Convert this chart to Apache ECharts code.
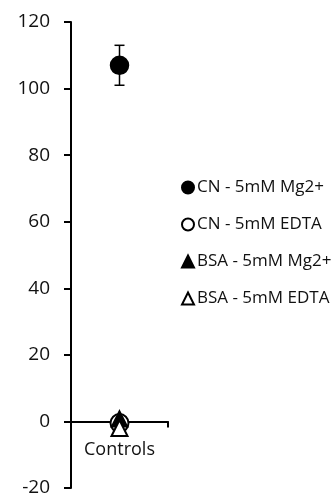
<!DOCTYPE html>
<html>
<head>
<meta charset="utf-8">
<script src="https://cdn.jsdelivr.net/npm/echarts@6/dist/echarts.min.js"></script>
<style>
  html, body { margin: 0; padding: 0; background: #fff; }
  #main { width: 334px; height: 497px; }
</style>
</head>
<body>
<div id="main"></div>
<script>
// 数据
var categories = ['Controls'];
var seriesNames = ['CN - 5mM Mg2+', 'CN - 5mM EDTA', 'BSA - 5mM Mg2+', 'BSA - 5mM EDTA'];
var seriesValues = [107, -0.5, 0.8, -2];
var seriesErrors = [6, 0, 0, 0];
var seriesSymbols = ['circle', 'emptyCircle', 'triangle', 'emptyTriangle'];
var yTicks = [-20, 0, 20, 40, 60, 80, 100, 120];

var myChart = echarts.init(document.getElementById('main'));

var font = 'Open Sans';
var series = [];

// 误差线
seriesNames.forEach(function (name, i) {
    if (!seriesErrors[i]) return;
    series.push({
        type: 'custom',
        silent: true,
        z: 1,
        data: [[categories[0], seriesValues[i] - seriesErrors[i], seriesValues[i] + seriesErrors[i]]],
        renderItem: function (params, api) {
            var lo = api.coord([api.value(0), api.value(1)]);
            var hi = api.coord([api.value(0), api.value(2)]);
            var w = 5;
            var style = { stroke: '#000', lineWidth: 1.5 };
            return {
                type: 'group',
                children: [
                    { type: 'line', shape: { x1: lo[0], y1: lo[1], x2: hi[0], y2: hi[1] }, style: style },
                    { type: 'line', shape: { x1: lo[0] - w, y1: lo[1], x2: lo[0] + w, y2: lo[1] }, style: style },
                    { type: 'line', shape: { x1: hi[0] - w, y1: hi[1], x2: hi[0] + w, y2: hi[1] }, style: style }
                ]
            };
        }
    });
});

// 数据点
seriesNames.forEach(function (name, i) {
    var isTri = seriesSymbols[i].indexOf('riangle') > -1;
    series.push({
        name: name,
        type: 'scatter',
        z: 3,
        symbol: seriesSymbols[i],
        symbolSize: isTri ? 16 : 18,
        itemStyle: { color: '#000', borderColor: '#000', borderWidth: 1.5, opacity: 1 },
        data: [[categories[0], seriesValues[i]]]
    });
});

var option = {
    animation: false,
    grid: { left: 71, right: 166, top: 22, bottom: 9, outerBoundsMode: 'none' },
    legend: {
        orient: 'vertical',
        left: 176,
        top: 174,
        itemGap: 20,
        itemWidth: 12,
        itemHeight: 12,
        data: seriesNames.map(function (n, i) { return { name: n, icon: seriesSymbols[i] }; }),
        textStyle: { fontFamily: font, fontSize: 17, color: '#111', padding: [0, 0, 0, -2] }
    },
    xAxis: {
        type: 'category',
        data: categories,
        boundaryGap: true,
        axisLine: { onZero: true, lineStyle: { color: '#000', width: 2 } },
        axisTick: { show: true, length: 6, lineStyle: { color: '#000', width: 2 } },
        // 标签放在 0 线下方
        axisLabel: { fontFamily: font, fontSize: 18, color: '#111', margin: -47 }
    },
    yAxis: {
        type: 'value',
        min: yTicks[0],
        max: yTicks[yTicks.length - 1],
        interval: 20,
        splitLine: { show: false },
        axisLine: { show: true, onZero: false, lineStyle: { color: '#000', width: 2 } },
        axisTick: { show: true, length: 7, lineStyle: { color: '#000', width: 2 } },
        axisLabel: { fontFamily: font, fontSize: 19, color: '#111', margin: 21 }
    },
    series: series
};

option && myChart.setOption(option);
</script>
</body>
</html>
